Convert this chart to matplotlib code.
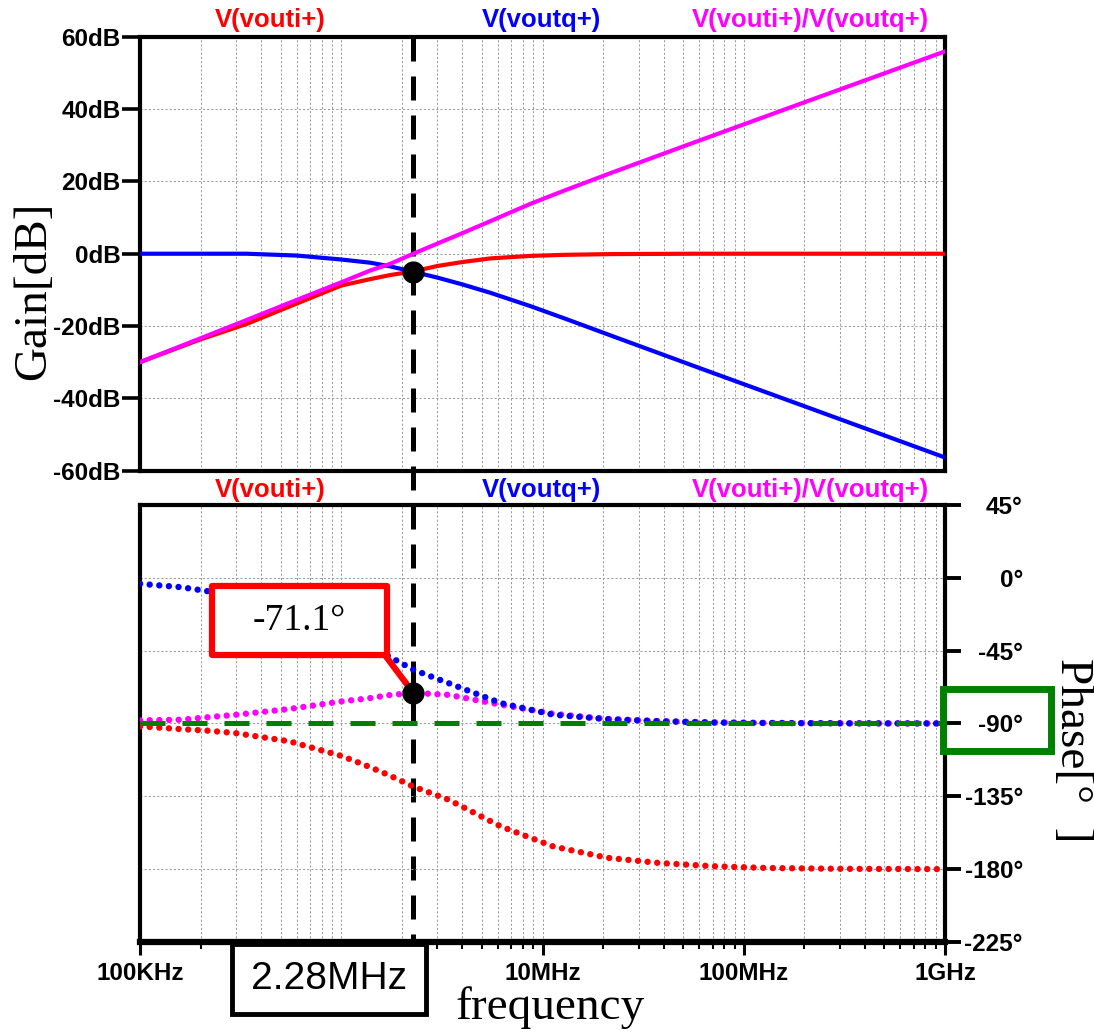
import matplotlib
matplotlib.use('Agg')
import matplotlib.pyplot as plt
from matplotlib.ticker import LogLocator, NullFormatter
from matplotlib.patches import Rectangle

# gain curves
freq_gain = [1e5, 2e5, 3.4e5, 6e5, 1e6, 1.4e6, 1.75e6, 2.28e6, 3e6, 4e6, 5.5e6,
             8.7e6, 1.3e7, 2.2e7, 5.8e7, 2e8, 1e9]
gain_i = [-30, -23.7, -19.4, -13.8, -8.8, -7.0, -5.9, -4.9, -3.4, -2.3, -1.3,
          -0.6, -0.3, -0.1, 0, 0, 0]
gain_q = [0, 0, 0, -0.5, -1.6, -2.5, -3.5, -5.0, -6.6, -8.5, -10.8,
          -14.5, -18.0, -22.7, -31.3, -42.2, -56.4]
gain_iq = [-30, -23.4, -18.3, -12.8, -7.9, -4.6, -2.8, 0, 2.8, 5.7, 9.0,
           13.8, 17.6, 22.4, 31.0, 41.9, 56]

# phase curves (dotted in the original)
freq_phase = [1e5, 1.6e5, 2.2e5, 3e5, 5.5e5, 1e6, 1.36e6, 1.73e6, 2.28e6, 3.4e6,
              6.2e6, 1.13e7, 2.1e7, 3.8e7, 7e7, 1.3e8, 3e8, 1e9]
phase_i = [-91.8, -93.5, -94.5, -96, -101, -110, -116.5, -122, -129, -137,
           -153.6, -166, -173, -176.2, -178.2, -179.3, -179.8, -180]
phase_q = [-3.7, -5.8, -8.4, -11.4, -19.9, -33.6, -42, -48.6, -56.8, -65,
           -77.4, -84.6, -87.3, -88.6, -89.4, -89.7, -89.9, -90]
phase_iq = [-88.1, -87.7, -86.1, -84.6, -81.1, -76.4, -74.5, -72.5, -71.1, -72.3,
            -78.4, -84, -87.3, -88.6, -89.4, -89.7, -89.9, -90]

f_mark = 2.28e6
gain_mark = -5.0
phase_mark = -71.1
phase_ref = -90

gain_ticks = [60, 40, 20, 0, -20, -40, -60]
gain_labels = ['60dB', '40dB', '20dB', '0dB', '-20dB', '-40dB', '-60dB']
phase_ticks = [45, 0, -45, -90, -135, -180, -225]
phase_labels = ['45°', '0°', '-45°', '-90°', '-135°', '-180°', '-225°']
freq_ticks = [1e5, 1e6, 1e7, 1e8, 1e9]
freq_labels = ['100KHz', '', '10MHz', '100MHz', '1GHz']  # 1MHz is hidden by the callout

series_names = ['V(vouti+)', 'V(voutq+)', 'V(vouti+)/V(voutq+)']
RED, BLUE, MAG, GREEN = '#ff0000', '#0000ff', '#ff00ff', '#008000'

sans = 'Liberation Sans'
serif = 'Liberation Serif'
tick_fs = 17.5

fig = plt.figure(figsize=(10.94, 10.35), dpi=100)
ax_top = fig.add_axes([0.128, 0.5454, 0.7358, 0.4189])
ax_bot = fig.add_axes([0.128, 0.0899, 0.7358, 0.4222])
ax_bot.set_facecolor('none')

grid_kw = dict(color='#9a9a9a', lw=0.75, ls=(0, (2, 2)))
for ax in (ax_top, ax_bot):
    ax.set_xscale('log')
    ax.set_xlim(1e5, 1e9)
    ax.xaxis.set_minor_locator(LogLocator(base=10, subs=range(2, 10)))
    ax.xaxis.set_minor_formatter(NullFormatter())
    ax.grid(which='both', axis='x', **grid_kw)
    ax.grid(which='major', axis='y', **grid_kw)
    ax.set_axisbelow(True)
    for sp in ax.spines.values():
        sp.set_linewidth(3)
ax_bot.spines['bottom'].set_linewidth(4.5)

# ---- gain panel ----
ax_top.plot(freq_gain, gain_q, color=BLUE, lw=3, zorder=3)
ax_top.plot(freq_gain, gain_i, color=RED, lw=3, zorder=3)
ax_top.plot(freq_gain, gain_iq, color=MAG, lw=3, zorder=3)
ax_top.plot([f_mark], [gain_mark], 'o', color='black', ms=15, zorder=6)

ax_top.set_ylim(-60, 60)
ax_top.set_yticks(gain_ticks)
ax_top.set_yticklabels(gain_labels, fontfamily=sans, fontweight='bold', fontsize=tick_fs)
ax_top.tick_params(axis='y', direction='out', length=13, width=2.6, pad=1)
ax_top.tick_params(axis='x', which='both', length=0, labelbottom=False)

# vertical marker line through both panels
vline = ax_top.axvline(f_mark, color='black', lw=3.6, dashes=(4.8, 3),
                       clip_on=False, zorder=2)
vline.set_ydata([1, -1.11])

# ---- phase panel ----
dot = dict(lw=4.6, ls=(0, (0.01, 1.5)), dash_capstyle='round')
ax_bot.plot(freq_phase, phase_i, color=RED, zorder=3, **dot)
ax_bot.plot(freq_phase, phase_iq, color=MAG, zorder=3, **dot)
ax_bot.plot(freq_phase, phase_q, color=BLUE, zorder=3, **dot)
ax_bot.axhline(phase_ref, color=GREEN, lw=3.6, dashes=(5, 3.4), zorder=4)
ax_bot.plot([f_mark], [phase_mark], 'o', color='black', ms=15, zorder=6)

ax_bot.set_ylim(-225, 45)
ax_bot.yaxis.tick_right()
ax_bot.set_yticks(phase_ticks)
ax_bot.set_yticklabels(phase_labels, fontfamily=sans, fontweight='bold',
                       fontsize=tick_fs, ha='right')
ax_bot.tick_params(axis='y', direction='out', length=11.5, width=2.8, pad=44.5)

ax_bot.set_xticks(freq_ticks)
ax_bot.set_xticklabels(freq_labels, fontfamily=sans, fontweight='bold', fontsize=tick_fs)
ax_bot.tick_params(axis='x', which='major', direction='out', length=9.5, width=2.2, pad=5)
ax_bot.tick_params(axis='x', which='minor', direction='out', length=5, width=1.5)

# callout for the phase value
ax_bot.add_patch(Rectangle((0.0894, 0.6568), 0.2174, 0.1578, transform=ax_bot.transAxes,
                           facecolor='white', edgecolor=RED, lw=4.5,
                           joinstyle='round', zorder=7, clip_on=False))
ax_bot.text(0.198, 0.7357, '-71.1°', transform=ax_bot.transAxes, ha='center',
            va='center', fontfamily=serif, fontsize=27, zorder=8)
ax_bot.annotate('', xy=(f_mark, phase_mark), xytext=(0.302, 0.662),
                textcoords='axes fraction',
                arrowprops=dict(arrowstyle='-', color=RED, lw=4.5,
                                shrinkA=0, shrinkB=0), zorder=5)

# frequency callout box below the axis
ax_bot.add_patch(Rectangle((0.1143, -0.1648), 0.241, 0.1602, transform=ax_bot.transAxes,
                           facecolor='white', edgecolor='black', lw=3.5,
                           zorder=7, clip_on=False))
ax_bot.text(0.2348, -0.0847, '2.28MHz', transform=ax_bot.transAxes, ha='center',
            va='center', fontfamily=sans, fontsize=28, zorder=8)

# green box around -90 label
ax_bot.add_patch(Rectangle((0.9975, 0.4371), 0.1342, 0.1419, transform=ax_bot.transAxes,
                           facecolor='none', edgecolor=GREEN, lw=5,
                           zorder=7, clip_on=False))

# series names above each panel
name_x = [270 / 1094, 541 / 1094, 810 / 1094]
for name, col, xx in zip(series_names, [RED, BLUE, MAG], name_x):
    fig.text(xx, 1 - 20 / 1035, name, color=col, ha='center', va='center',
             fontfamily=sans, fontweight='bold', fontsize=18.5)
    fig.text(xx, 1 - 490 / 1035, name, color=col, ha='center', va='center',
             fontfamily=sans, fontweight='bold', fontsize=18.5)

fig.text(34 / 1094, 1 - 291 / 1035, 'Gain[dB]', rotation=90, ha='center', va='center',
         fontfamily=serif, fontsize=34)
fig.text(1072 / 1094, 1 - 750 / 1035, 'Phase[°  ]', rotation=-90, ha='center',
         va='center', fontfamily=serif, fontsize=34)
fig.text(550 / 1094, 1 - 1008 / 1035, 'frequency', ha='center', va='center',
         fontfamily=serif, fontsize=34)

fig.savefig('out.png', dpi=100)
